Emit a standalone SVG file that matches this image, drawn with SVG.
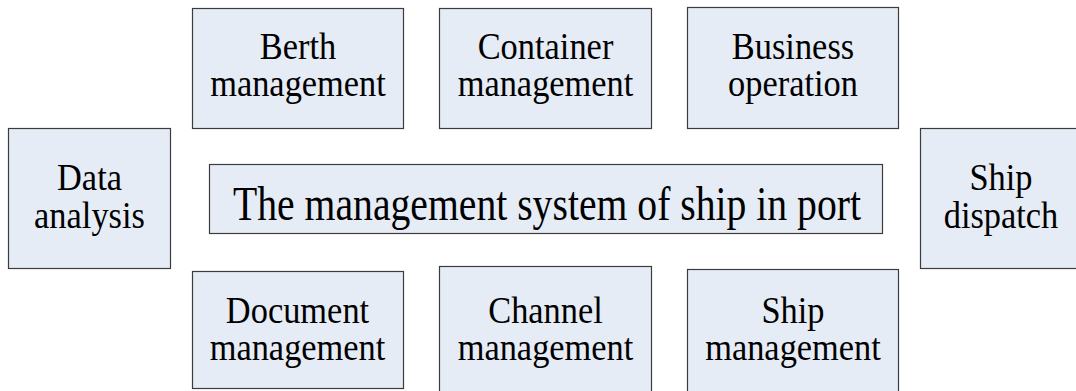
<svg xmlns="http://www.w3.org/2000/svg" width="1076" height="391" viewBox="0 0 1076 391">
  <style>
    .box { fill: #e6ecf6; stroke: #3c3c3c; stroke-width: 1.2; }
    .lbl { font-family: "Liberation Serif", "Times New Roman", serif; font-size: 37px; fill: #000; text-anchor: middle; }
    .main { font-family: "Liberation Serif", "Times New Roman", serif; font-size: 49px; fill: #000; text-anchor: middle; }
  </style>
  <rect width="1076" height="391" fill="#ffffff"/>
  <g id="connectors"></g>

  <g id="node-berth">
    <rect class="box" x="192.5" y="8.5" width="211" height="120"/>
    <text class="lbl" transform="matrix(0.93 0 0 1 298 0)" x="0" y="59">Berth</text>
    <text class="lbl" transform="matrix(0.93 0 0 1 298 0)" x="0" y="96">management</text>
  </g>
  <g id="node-container">
    <rect class="box" x="439.5" y="8.5" width="212" height="120"/>
    <text class="lbl" transform="matrix(0.93 0 0 1 545.5 0)" x="0" y="59">Container</text>
    <text class="lbl" transform="matrix(0.93 0 0 1 545.5 0)" x="0" y="96">management</text>
  </g>
  <g id="node-business">
    <rect class="box" x="687.5" y="7.5" width="211" height="121"/>
    <text class="lbl" transform="matrix(0.93 0 0 1 793 0)" x="0" y="59">Business</text>
    <text class="lbl" transform="matrix(0.93 0 0 1 793 0)" x="0" y="96">operation</text>
  </g>
  <g id="node-data">
    <rect class="box" x="8.5" y="128.5" width="162" height="140"/>
    <text class="lbl" transform="matrix(0.93 0 0 1 89.5 0)" x="0" y="190">Data</text>
    <text class="lbl" transform="matrix(0.93 0 0 1 89.5 0)" x="0" y="228">analysis</text>
  </g>
  <g id="node-main">
    <rect class="box" x="209.5" y="164.5" width="673" height="69"/>
    <text class="main" x="547" y="220" textLength="628" lengthAdjust="spacingAndGlyphs">The management system of ship in port</text>
  </g>
  <g id="node-dispatch">
    <rect class="box" x="920.5" y="128.5" width="163" height="140"/>
    <text class="lbl" transform="matrix(0.93 0 0 1 1001 0)" x="0" y="190">Ship</text>
    <text class="lbl" transform="matrix(0.93 0 0 1 1001 0)" x="0" y="228">dispatch</text>
  </g>
  <g id="node-document">
    <rect class="box" x="192.5" y="271.5" width="211" height="117"/>
    <text class="lbl" transform="matrix(0.93 0 0 1 297.5 0)" x="0" y="323">Document</text>
    <text class="lbl" transform="matrix(0.93 0 0 1 297.5 0)" x="0" y="360">management</text>
  </g>
  <g id="node-channel">
    <rect class="box" x="439.5" y="266.5" width="212" height="130"/>
    <text class="lbl" transform="matrix(0.93 0 0 1 545.5 0)" x="0" y="323">Channel</text>
    <text class="lbl" transform="matrix(0.93 0 0 1 545.5 0)" x="0" y="360">management</text>
  </g>
  <g id="node-ship">
    <rect class="box" x="687.5" y="269.5" width="211" height="127"/>
    <text class="lbl" transform="matrix(0.93 0 0 1 793 0)" x="0" y="323">Ship</text>
    <text class="lbl" transform="matrix(0.93 0 0 1 793 0)" x="0" y="360">management</text>
  </g>
</svg>
